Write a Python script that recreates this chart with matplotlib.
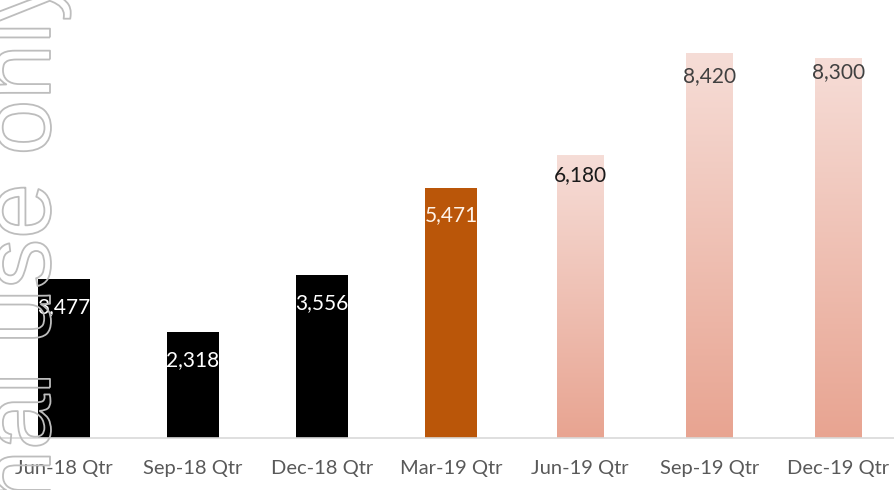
import numpy as np
import matplotlib
matplotlib.use('Agg')
import matplotlib.pyplot as plt
import matplotlib.patheffects as pe
from matplotlib.colors import LinearSegmentedColormap

# data
quarters = ['Jun-18 Qtr', 'Sep-18 Qtr', 'Dec-18 Qtr', 'Mar-19 Qtr',
            'Jun-19 Qtr', 'Sep-19 Qtr', 'Dec-19 Qtr']
values = [3477, 2318, 3556, 5471, 6180, 8420, 8300]
value_labels = ['3,477', '2,318', '3,556', '5,471', '6,180', '8,420', '8,300']

# styles
bar_kind = ['solid', 'solid', 'solid', 'solid', 'grad', 'grad', 'grad']
bar_colors = ['#000000', '#000000', '#000000', '#BA5609', None, None, None]
bar_widths = [0.40, 0.40, 0.40, 0.40, 0.36, 0.36, 0.36]
label_colors = ['white', 'white', 'white', '#FFF3E8', '#1A1A1A', '#404040', '#404040']
label_offsets = [-20, -20, -20, -19.5, -14.5, -16.5, -10]  # points

grad_cmap = LinearSegmentedColormap.from_list('peach', ['#E8A491', '#F6DDD7'])

plt.rcParams['font.family'] = ['Lato', 'DejaVu Sans']

fig = plt.figure(figsize=(8.95, 4.9), dpi=100)
ax = fig.add_axes([0, 52 / 490, 1, 438 / 490])

x = np.arange(len(quarters))
bars = ax.bar(x, values, width=bar_widths, color='none', linewidth=0, zorder=2)

grad = np.linspace(0, 1, 256).reshape(-1, 1)
for b, kind, col in zip(bars, bar_kind, bar_colors):
    if kind == 'solid':
        b.set_facecolor(col)
    else:
        x0, w, h = b.get_x(), b.get_width(), b.get_height()
        im = ax.imshow(grad, extent=[x0, x0 + w, 0, h], origin='lower',
                       aspect='auto', cmap=grad_cmap, zorder=2)
        im.set_clip_path(b)

for xi, v, lab, c, off in zip(x, values, value_labels, label_colors, label_offsets):
    ax.annotate(lab, (xi, v), xytext=(0, off), textcoords='offset points',
                ha='center', va='center', color=c, fontsize=15, zorder=3)

ax.set_xlim(-0.496, 6.44)
ax.set_ylim(0, 9578)
ax.set_xticks(x)
ax.set_xticklabels(quarters, fontsize=14.5, color='#595959')
ax.tick_params(axis='x', length=0, pad=16)
ax.set_yticks([])
for s in ['left', 'right', 'top']:
    ax.spines[s].set_visible(False)
ax.spines['bottom'].set_color('#D9D9D9')
ax.spines['bottom'].set_linewidth(1.2)

# watermark, outline only
fig.text(50 / 895, 518 / 490, 'Internal use only', rotation=90,
         rotation_mode='anchor', ha='right', va='baseline',
         fontsize=72, family='Liberation Sans', color='none',
         path_effects=[pe.Stroke(linewidth=1.3, foreground='#BDBDBD')],
         zorder=10)

fig.savefig('out.png', dpi=100)
